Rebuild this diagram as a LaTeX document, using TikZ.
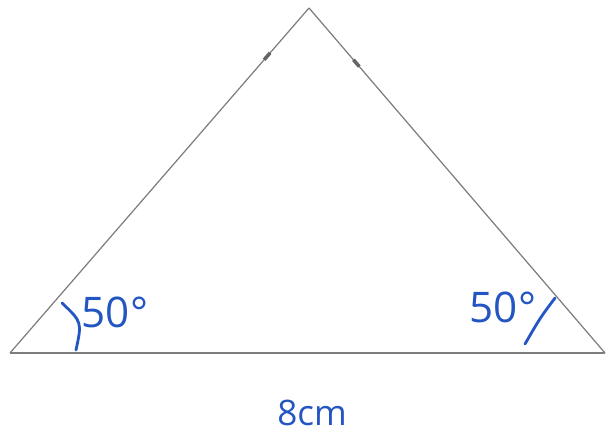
\documentclass[tikz,border=0pt]{standalone}
\usepackage{fontspec}
\setmainfont{Open Sans}
\usepackage{xcolor}
\definecolor{penblue}{RGB}{35,85,195}
\definecolor{pencil}{RGB}{125,125,125}
\usetikzlibrary{positioning}

\begin{document}
\begin{tikzpicture}[
  x=0.02cm, y=-0.02cm,
  side/.style={draw=pencil, line width=0.7pt},
  tickmark/.style={sloped, fill=pencil!80!black, inner sep=0pt, minimum width=0.18cm, minimum height=0.07cm},
  arcmark/.style={draw=penblue, line width=1.6pt, line cap=round},
  lbl/.style={text=penblue, font=\fontsize{24}{26}\selectfont, inner sep=0pt}
]
  \useasboundingbox (0,0) rectangle (607,438);
  % corners of the triangle
  \coordinate (A) at (10,353);
  \coordinate (B) at (605,353);
  \coordinate (C) at (309,8);
  % sides
  \draw[side] (A) -- (B);
  \draw[side] (A) -- (C) node[tickmark, pos=0.86] (tickl) {};
  \draw[side] (C) -- (B) node[tickmark, pos=0.16] (tickr) {};
  % angle marks
  \draw[arcmark] (62,303) .. controls (82,322) .. (76,350);
  \draw[arcmark] (555,298) .. controls (540,318) .. (525,344);
  % labels
  \node[lbl] (angA) at (115,312) {50°};
  \node[lbl] (angB) at (503,307) {50°};
  \node[lbl, font=\fontsize{20}{22}\selectfont] (base) at (312,413) {8cm};
\end{tikzpicture}
\end{document}
